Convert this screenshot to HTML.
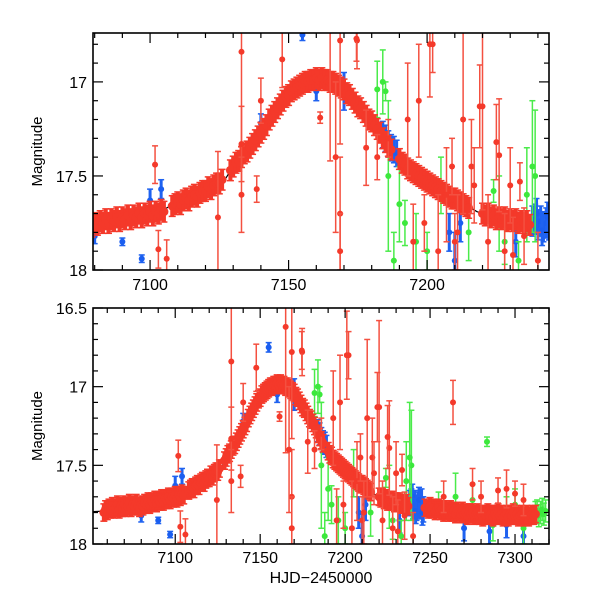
<!DOCTYPE html>
<html><head><meta charset="utf-8"><style>
html,body{margin:0;padding:0;background:#fff;}
svg{display:block;font-family:"Liberation Sans",Arial,sans-serif;}
</style></head><body>
<svg id="chart" width="600" height="600" viewBox="0 0 600 600">
<g id="axes"></g>
</svg>
<script>
// ---- data ----
const redDays = [7058,7059,7060,7061,7062,7063,7064,7065,7066,7067,7068,7069,7070,7071,7072,7073,7074,7075,7076,7077,7078,7079,7080,7081,7082,7083,7084,7085,7086,7087,7088,7089,7090,7091,7092,7093,7094,7095,7096,7097,7098,7099,7100,7101,7102,7103,7104,7105,
7108,7109,7110,7111,7112,7113,7114,7115,7116,7117,7118,7119,7120,7121,7122,7123,7124,7125,7126,
7129,7130,7131,7132,7133,7134,7135,7136,7137,7138,7139,7140,7141,7142,7143,7144,7145,7146,7147,7148,7149,7150,7151,7152,7153,7154,7155,7156,7157,7158,7159,7160,7161,7162,7163,7164,7165,7166,7167,7168,7169,7170,7171,7172,7173,7174,7175,7176,7177,7178,7179,7180,7181,7182,7183,7184,7185,7186,7187,
7190,7191,7192,7193,7194,7195,7196,7197,7198,7199,7200,7201,7202,7203,7204,7205,7206,7207,7208,7209,7210,7211,7212,7213,7214,7215,
7220,7221,7222,7223,7224,7225,7226,7227,7228,7229,7230,7231,7232,7233,7234,7235,7236,7237,
7247,7249,7250,7251,7252,7253,7254,7255,7256,7257,7258,7259,7260,7261,7262,7263,7264,7265,7266,7267,7268,7269,7270,7271,7272,7273,7274,7275,7276,7277,7278,7279,7280,7281,7282,7283,7284,7285,7286,7287,7288,7289,7290,7291,7292,7293,7294,7295,7296,7297,7298,7299,7300,7301,7302,7303,7304,7305,7306,7307,7308,7309,7310,7311,7312];
const redMags = [17.80,17.78,17.79,17.77,17.78,17.76,17.78,17.77,17.75,17.78,17.76,17.77,17.75,17.77,17.76,17.74,17.77,17.75,17.76,17.74,17.76,17.77,17.75,17.76,17.74,17.75,17.73,17.75,17.73,17.74,17.72,17.74,17.72,17.73,17.71,17.73,17.71,17.72,17.70,17.72,17.70,17.71,17.69,17.71,17.69,17.70,17.68,17.69,
17.66,17.65,17.64,17.65,17.63,17.62,17.63,17.61,17.60,17.61,17.59,17.58,17.58,17.56,17.57,17.55,17.54,17.54,17.52,
17.47,17.45,17.43,17.42,17.40,17.38,17.37,17.35,17.33,17.31,17.29,17.27,17.25,17.23,17.20,17.18,17.16,17.14,17.12,17.10,17.08,17.07,17.05,17.04,17.03,17.02,17.01,17.00,17.00,16.99,16.99,16.98,16.99,16.98,16.99,16.99,17.00,17.00,17.01,17.02,17.03,17.04,17.06,17.07,17.09,17.11,17.13,17.14,17.16,17.18,17.20,17.21,17.23,17.25,17.27,17.30,17.32,17.34,17.36,
17.41,17.43,17.44,17.46,17.47,17.48,17.49,17.50,17.51,17.52,17.53,17.54,17.55,17.56,17.57,17.58,17.59,17.60,17.61,17.62,17.62,17.63,17.64,17.65,17.66,17.67,
17.70,17.71,17.70,17.72,17.71,17.73,17.72,17.73,17.72,17.74,17.73,17.74,17.73,17.75,17.74,17.75,17.74,17.76,
17.77,17.78,17.76,17.78,17.77,17.79,17.78,17.77,17.79,17.78,17.80,17.78,17.79,17.80,17.78,17.80,17.79,17.81,17.79,17.80,17.81,17.79,17.81,17.80,17.82,17.80,17.81,17.80,17.82,17.81,17.80,17.82,17.81,17.83,17.81,17.82,17.80,17.82,17.81,17.83,17.81,17.82,17.80,17.82,17.81,17.83,17.82,17.81,17.83,17.81,17.82,17.80,17.82,17.81,17.83,17.82,17.81,17.83,17.82,17.81,17.83,17.82,17.81,17.82,17.81];
const denseErr = 0.055;

const redOutDays = [7101.8,7103,7106,7124.5,7133,7133,7133,7138.5,7147.7,7161.4,7168.6,7168.6,7168.6,7174.7,7178,7193,7197,7202,7213,7220,7226,7233.5,7210,7201,7174.5,7219,7225,7263.5,7165,7167,7140,7216,7230,7258,7290,7300,7275,7195,7199,7204,7207,7211,7222,7228,7235,7240,7182,7186,7209,7217,7231,7280,7295,7305];
const redOutMags = [17.44,17.89,17.94,17.72,16.84,17.33,17.60,17.57,16.88,17.19,16.78,17.70,17.90,16.78,17.35,17.20,17.10,16.80,17.20,17.13,17.39,17.53,17.85,16.80,16.77,17.13,17.32,17.10,16.62,17.40,17.10,17.45,17.55,17.70,17.66,17.68,17.62,17.85,17.75,17.90,17.60,17.80,17.85,17.90,17.82,17.95,17.40,17.30,17.45,17.55,17.92,17.70,17.65,17.72];
const redOutErrs = [0.10,0.10,0.10,0.35,0.50,0.20,0.20,0.07,0.15,0.03,0.55,0.30,0.20,0.15,0.20,0.30,0.30,0.15,0.50,0.55,0.30,0.10,0.15,0.28,0.12,0.22,0.20,0.14,0.80,0.40,0.12,0.25,0.20,0.10,0.08,0.08,0.10,0.20,0.15,0.30,0.25,0.20,0.25,0.20,0.15,0.15,0.12,0.10,0.15,0.20,0.20,0.10,0.12,0.10];

const blueDays = [7184,7185,7186,7187,7188,7189,7238,7239,7240,7241,7242,7243,7244,7245,7246,7090,7097,7104,7140,7155,7160,7170,7208,7210,7212,7232,7270,7285,7295,7305,7100,7080,7239.5,7241.5,7243.5,7245.5];
const blueMags = [17.28,17.30,17.33,17.35,17.36,17.38,17.74,17.73,17.76,17.74,17.77,17.75,17.76,17.73,17.78,17.85,17.94,17.57,17.22,16.75,17.05,17.05,17.80,17.95,17.75,17.85,17.90,17.92,17.88,17.95,17.63,17.82,17.70,17.79,17.72,17.80];
const blueErrs = [0.07,0.07,0.07,0.07,0.07,0.07,0.08,0.08,0.08,0.08,0.08,0.08,0.08,0.08,0.08,0.02,0.02,0.05,0.05,0.03,0.05,0.10,0.10,0.15,0.10,0.08,0.08,0.08,0.08,0.08,0.06,0.04,0.08,0.08,0.08,0.08];

const greenDays = [7182,7185,7186,7184,7205,7224,7239,7238,7283.5,7200,7188,7192,7228,7236,7255,7265,7275,7295,7305,7312,7313,7314,7315,7316,7317,7318,7190,7215,7196,7226,7233,7287,7300];
const greenMags = [17.04,17.05,17.50,17.00,17.55,17.58,17.50,17.45,17.35,17.90,17.95,17.75,17.85,17.60,17.75,17.70,17.72,17.78,17.90,17.80,17.79,17.82,17.80,17.78,17.81,17.79,17.65,17.80,17.85,17.70,17.95,17.88,17.75];
const greenErrs = [0.15,0.05,0.40,0.17,0.15,0.06,0.35,0.35,0.03,0.10,0.15,0.12,0.12,0.25,0.08,0.15,0.10,0.08,0.10,0.07,0.07,0.07,0.07,0.07,0.07,0.07,0.20,0.15,0.15,0.20,0.10,0.10,0.10];

const modelDays = [7040,7060,7080,7100,7106,7110,7120,7127,7130,7140,7150,7158,7163,7170,7180,7190,7200,7210,7218,7225,7240,7260,7290,7330];
const modelMags = [17.80,17.79,17.76,17.70,17.67,17.64,17.58,17.52,17.45,17.27,17.07,16.99,16.99,17.04,17.21,17.41,17.53,17.62,17.69,17.72,17.75,17.78,17.81,17.82];

const topXTicks = [7100,7150,7200];
const topYTicks = [17,17.5,18];
const botXTicks = [7100,7150,7200,7250,7300];
const botYTicks = [16.5,17,17.5,18];

// ---- panels ----
const panels = [
  {name:'top', x0:93, x1:549, y0:33, y1:270, d0:7079.4, d1:7244.0, m0:16.74, m1:18.0, xt:topXTicks, yt:topYTicks, labY:290},
  {name:'bottom', x0:93, x1:549, y0:308, y1:544, d0:7051.6, d1:7320.0, m0:16.5, m1:18.0, xt:botXTicks, yt:botYTicks, labY:563}
];
const NS='http://www.w3.org/2000/svg';
const svg=document.getElementById('chart');
function mk(tag,attrs,parent){const e=document.createElementNS(NS,tag);for(const k in attrs)e.setAttribute(k,attrs[k]);(parent||svg).appendChild(e);return e;}

panels.forEach(p=>{
  const sx=d=>p.x0+(d-p.d0)/(p.d1-p.d0)*(p.x1-p.x0);
  const sy=m=>p.y0+(m-p.m0)/(p.m1-p.m0)*(p.y1-p.y0);
  const g=mk('g',{});
  
  
  const cid='clip-'+p.name;
  const cp=mk('clipPath',{id:cid},g);
  mk('rect',{x:p.x0,y:p.y0,width:p.x1-p.x0,height:p.y1-p.y0},cp);
  const plot=mk('g',{'clip-path':'url(#'+cid+')'},g);
  const mpts=modelDays.map((d,i)=>sx(d).toFixed(1)+','+sy(modelMags[i]).toFixed(1)).join(' ');
  const ml=mk('polyline',{points:mpts,fill:'none',stroke:'#000','stroke-width':1.2},plot);
  
  
  function series(days,mags,errs,col,ecol,r,nm,sw,cap){
    const sg=mk('g',{},plot);
    
    
    days.forEach((d,i)=>{
      const e=Array.isArray(errs)?errs[i]:errs;
      const x=sx(d), ya=sy(mags[i]-e), yb=sy(mags[i]+e), y=sy(mags[i]);
      mk('line',{x1:x,x2:x,y1:ya,y2:yb,stroke:ecol,'stroke-width':sw},sg);
      mk('line',{x1:x-cap,x2:x+cap,y1:ya,y2:ya,stroke:ecol,'stroke-width':1.5},sg);
      mk('line',{x1:x-cap,x2:x+cap,y1:yb,y2:yb,stroke:ecol,'stroke-width':1.5},sg);
      const c=mk('circle',{cx:x,cy:y,r:r,fill:col},sg);
      
      
    });
  }
  series(blueDays,blueMags,blueErrs,'#1a5ef0','#1f62f0',3,'blue',3,3);
  series(greenDays,greenMags,greenErrs,'#3ce83c','#4aeb4a',3,'green',1.5,3);
  series(redDays,redMags,denseErr,'#f4392a','#f4392a',4.5,'red',4,3.5);
  series(redOutDays,redOutMags,redOutErrs,'#f4392a','#f45040',3,'red-outlier',1.5,3);
  const fr=mk('rect',{x:p.x0,y:p.y0,width:p.x1-p.x0,height:p.y1-p.y0,fill:'none',stroke:'#000','stroke-width':1.6},g);
  
  
  const tg=mk('g',{stroke:'#000','stroke-width':1.2},g);
  
  
  for(let d=Math.ceil(p.d0/10)*10; d<=p.d1; d+=10){
    const x=sx(d), L=(d%50===0)?10:5;
    mk('line',{x1:x,x2:x,y1:p.y1,y2:p.y1-L},tg);
    mk('line',{x1:x,x2:x,y1:p.y0,y2:p.y0+L},tg);
  }
  for(let k=Math.ceil(p.m0*10-1e-6); k<=Math.round(p.m1*10); k++){
    const m=k/10, y=sy(m), L=(k%5===0)?10:5;
    mk('line',{x1:p.x0,x2:p.x0+L,y1:y,y2:y},tg);
    mk('line',{x1:p.x1,x2:p.x1-L,y1:y,y2:y},tg);
  }
  p.xt.forEach(d=>{
    const t=mk('text',{x:sx(d),y:p.labY,'text-anchor':'middle','font-size':16,fill:'#000'},g);
    t.textContent=String(d);
    
    
  });
  p.yt.forEach(m=>{
    const t=mk('text',{x:p.x0-6,y:sy(m)+6,'text-anchor':'end','font-size':16,fill:'#000'},g);
    t.textContent=String(m);
    
    
  });
  const yl=mk('text',{x:0,y:0,'text-anchor':'middle','font-size':15,fill:'#000',transform:'translate(42,'+((p.y0+p.y1)/2)+') rotate(-90)'},g);
  yl.textContent='Magnitude';
  
  
});
const xl=mk('text',{x:321,y:583,'text-anchor':'middle','font-size':16,fill:'#000'});
xl.textContent='HJD\u22122450000';


</script>
</body></html>
